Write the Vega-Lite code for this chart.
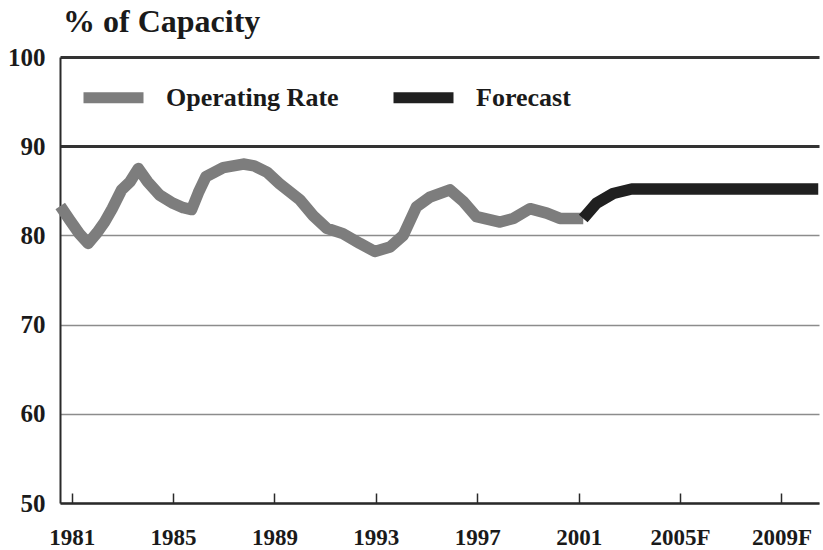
{
  "$schema": "https://vega.github.io/schema/vega-lite/v6.json",
  "autosize": {"type": "none"},
  "padding": {"left": 60, "top": 57, "right": 4, "bottom": 47},
  "width": 759,
  "height": 446,
  "background": "white",
  "title": {
    "text": "% of Capacity",
    "anchor": "start",
    "frame": "group",
    "font": "Liberation Serif",
    "fontSize": 32,
    "fontWeight": "bold",
    "color": "#1a1a1a",
    "baseline": "alphabetic",
    "offset": -19,
    "dx": 3
  },
  "data": {
    "values": [
      {"year": 1980.55, "rate": 83.3, "series": "Operating Rate"},
      {"year": 1980.93, "rate": 81.7, "series": "Operating Rate"},
      {"year": 1981.3, "rate": 80.2, "series": "Operating Rate"},
      {"year": 1981.65, "rate": 79.1, "series": "Operating Rate"},
      {"year": 1982.0, "rate": 80.3, "series": "Operating Rate"},
      {"year": 1982.3, "rate": 81.5, "series": "Operating Rate"},
      {"year": 1982.6, "rate": 83.0, "series": "Operating Rate"},
      {"year": 1982.97, "rate": 85.1, "series": "Operating Rate"},
      {"year": 1983.3, "rate": 86.0, "series": "Operating Rate"},
      {"year": 1983.63, "rate": 87.5, "series": "Operating Rate"},
      {"year": 1984.0, "rate": 86.0, "series": "Operating Rate"},
      {"year": 1984.48, "rate": 84.5, "series": "Operating Rate"},
      {"year": 1985.0, "rate": 83.6, "series": "Operating Rate"},
      {"year": 1985.4, "rate": 83.1, "series": "Operating Rate"},
      {"year": 1985.73, "rate": 82.9, "series": "Operating Rate"},
      {"year": 1986.0, "rate": 84.8, "series": "Operating Rate"},
      {"year": 1986.3, "rate": 86.6, "series": "Operating Rate"},
      {"year": 1986.98, "rate": 87.6, "series": "Operating Rate"},
      {"year": 1987.77, "rate": 88.0, "series": "Operating Rate"},
      {"year": 1988.2, "rate": 87.8, "series": "Operating Rate"},
      {"year": 1988.7, "rate": 87.1, "series": "Operating Rate"},
      {"year": 1989.2, "rate": 85.8, "series": "Operating Rate"},
      {"year": 1989.6, "rate": 84.9, "series": "Operating Rate"},
      {"year": 1990.0, "rate": 84.0, "series": "Operating Rate"},
      {"year": 1990.53, "rate": 82.2, "series": "Operating Rate"},
      {"year": 1991.06, "rate": 80.8, "series": "Operating Rate"},
      {"year": 1991.7, "rate": 80.2, "series": "Operating Rate"},
      {"year": 1992.37, "rate": 79.1, "series": "Operating Rate"},
      {"year": 1992.96, "rate": 78.2, "series": "Operating Rate"},
      {"year": 1993.56, "rate": 78.7, "series": "Operating Rate"},
      {"year": 1994.08, "rate": 80.0, "series": "Operating Rate"},
      {"year": 1994.6, "rate": 83.2, "series": "Operating Rate"},
      {"year": 1995.13, "rate": 84.3, "series": "Operating Rate"},
      {"year": 1995.92, "rate": 85.1, "series": "Operating Rate"},
      {"year": 1996.45, "rate": 83.8, "series": "Operating Rate"},
      {"year": 1996.97, "rate": 82.1, "series": "Operating Rate"},
      {"year": 1997.9, "rate": 81.5, "series": "Operating Rate"},
      {"year": 1998.42, "rate": 81.9, "series": "Operating Rate"},
      {"year": 1999.08, "rate": 83.0, "series": "Operating Rate"},
      {"year": 1999.74, "rate": 82.5, "series": "Operating Rate"},
      {"year": 2000.26, "rate": 81.9, "series": "Operating Rate"},
      {"year": 2001.18, "rate": 81.9, "series": "Operating Rate"},
      {"year": 2001.18, "rate": 81.9, "series": "Forecast"},
      {"year": 2001.7, "rate": 83.6, "series": "Forecast"},
      {"year": 2002.36, "rate": 84.7, "series": "Forecast"},
      {"year": 2003.09, "rate": 85.2, "series": "Forecast"},
      {"year": 2010.45, "rate": 85.2, "series": "Forecast"}
    ]
  },
  "mark": {"type": "line", "strokeWidth": 11.5, "strokeJoin": "round", "strokeCap": "butt"},
  "encoding": {
    "x": {
      "field": "year",
      "type": "quantitative",
      "scale": {"domain": [1980.54, 2010.48], "nice": false, "zero": false},
      "axis": {
        "title": null,
        "values": [1981, 1985, 1989, 1993, 1997, 2001, 2005, 2009],
        "labelExpr": "datum.value >= 2005 ? datum.value + 'F' : '' + datum.value",
        "grid": false,
        "domainColor": "#2a2a2a",
        "domainWidth": 2.5,
        "tickColor": "#2a2a2a",
        "tickWidth": 1.5,
        "tickSize": -10,
        "labelPadding": 33,
        "labelFont": "Liberation Serif",
        "labelFontWeight": "bold",
        "labelFontSize": 23,
        "labelColor": "#1a1a1a",
        "labelBaseline": "top",
        "labelFlush": false
      }
    },
    "y": {
      "field": "rate",
      "type": "quantitative",
      "scale": {"domain": [50, 100], "nice": false, "zero": false},
      "axis": {
        "title": null,
        "values": [50, 60, 70, 80, 90, 100],
        "ticks": false,
        "labelPadding": 15,
        "domainColor": "#2a2a2a",
        "domainWidth": 2,
        "grid": true,
        "gridColor": {"condition": {"test": "datum.value >= 90", "value": "#333333"}, "value": "#8c8c8c"},
        "gridWidth": {"condition": {"test": "datum.value >= 90", "value": 3}, "value": 1.6},
        "gridOpacity": 1,
        "labelFont": "Liberation Serif",
        "labelFontWeight": "bold",
        "labelFontSize": 25,
        "labelColor": "#1a1a1a",
        "labelFlush": false
      }
    },
    "color": {
      "field": "series",
      "type": "nominal",
      "scale": {"domain": ["Operating Rate", "Forecast"], "range": ["#7d7d7d", "#202020"]},
      "legend": {
        "title": null,
        "orient": "none",
        "legendX": 18,
        "legendY": 5,
        "direction": "horizontal",
        "symbolType": "stroke",
        "symbolSize": 3600,
        "symbolStrokeWidth": 11,
        "labelFont": "Liberation Serif",
        "labelFontWeight": "bold",
        "labelFontSize": 26,
        "labelColor": "#1a1a1a",
        "labelOffset": 17,
        "labelLimit": 400,
        "columnPadding": 32
      }
    }
  },
  "config": {"view": {"stroke": null}}
}
